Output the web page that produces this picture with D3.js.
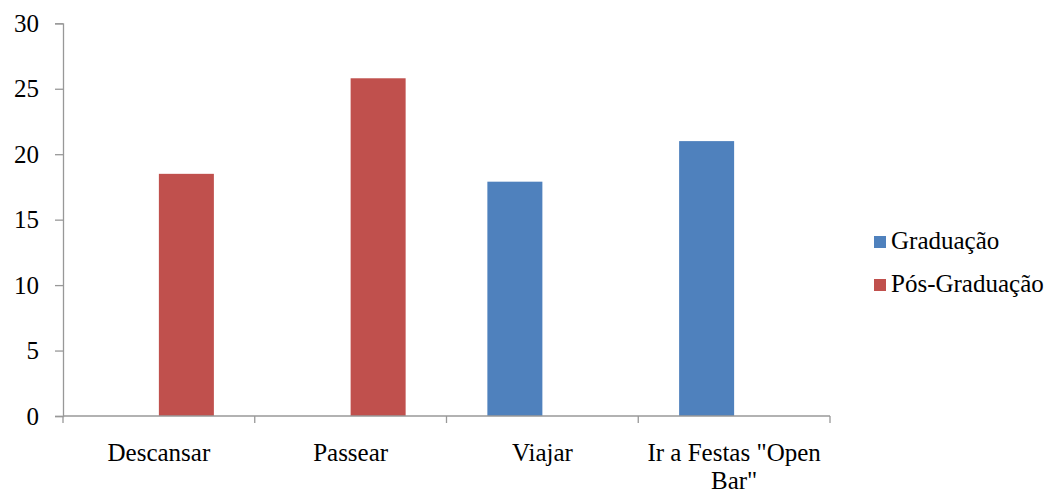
<!DOCTYPE html>
<html><head><meta charset="utf-8">
<script src="https://cdn.jsdelivr.net/npm/d3@7"></script>
<style>body{margin:0;background:#fff}svg{display:block}svg text{font-family:"Liberation Serif","Times New Roman",serif !important;fill:#000}</style>
</head><body>
<svg id="c" width="1059" height="495" font-family="Liberation Serif"></svg>
<script>
const categories = ["Descansar", "Passear", "Viajar", "Ir a Festas \"Open Bar\""];
const seriesNames = ["Graduação", "Pós-Graduação"];
const graduacao = [0, 0, 17.9, 21.0];
const posGraduacao = [18.5, 25.8, 0, 0];
const yTicks = [0, 5, 10, 15, 20, 25, 30];
const colors = ["#4F81BD", "#C0504D"];

(function () {
const svg = d3.select("#c");
const pLeft = 63, pRight = 830, pTop = 23.3, pBottom = 416;
const x = d3.scaleBand().domain(categories).range([pLeft, pRight]).paddingInner(0).paddingOuter(0);
const inner = d3.scaleBand().domain(seriesNames).range([0, x.bandwidth()]).paddingInner(0).paddingOuter(0.743);
const y = d3.scaleLinear().domain([0, 30]).range([pBottom, pTop]);
const axisColor = "#989898";
const font = "'Liberation Serif', 'Times New Roman', serif";

// y axis
const ya = svg.append("g").attr("transform", `translate(${pLeft},0)`)
  .call(d3.axisLeft(y).tickValues(yTicks).tickSize(8).tickPadding(16));
ya.attr("font-family", null);
ya.select(".domain").attr("stroke", axisColor).attr("stroke-width", 1.3);
ya.selectAll(".tick line").attr("stroke", axisColor).attr("stroke-width", 1.3);
ya.selectAll(".tick text").attr("font-size", 25).style("font-family", font).attr("fill", "#000");

// bars
const data = categories.map((c, i) => ({c, vals: [graduacao[i], posGraduacao[i]]}));
const g = svg.append("g");
data.forEach(d => {
  d.vals.forEach((v, j) => {
    if (v <= 0) return;
    g.append("rect")
      .attr("x", x(d.c) + inner(seriesNames[j]))
      .attr("y", y(v))
      .attr("width", inner.bandwidth())
      .attr("height", y(0) - y(v))
      .attr("fill", colors[j]);
  });
});

// x axis
const xa = svg.append("g").attr("transform", `translate(0,${pBottom})`);
xa.append("line").attr("x1", pLeft).attr("x2", pRight).attr("y1", 0).attr("y2", 0).attr("stroke", axisColor).attr("stroke-width", 1.3);
const bounds = categories.map(c => x(c)).concat([pRight]);
xa.selectAll("line.tk").data(bounds).enter().append("line").attr("class", "tk")
  .attr("x1", d => d).attr("x2", d => d).attr("y1", 0).attr("y2", 7).attr("stroke", axisColor).attr("stroke-width", 1.3);
const labelLines = [["Descansar"], ["Passear"], ["Viajar"], ["Ir a Festas \"Open", "Bar\""]];
categories.forEach((c, i) => {
  const t = xa.append("text").attr("text-anchor", "middle").attr("font-size", 25).style("font-family", font)
    .attr("x", x(c) + x.bandwidth() / 2).attr("y", 45);
  labelLines[i].forEach((ln, k) => {
    t.append("tspan").attr("x", x(c) + x.bandwidth() / 2).attr("dy", k === 0 ? 0 : 28).text(ln);
  });
});

// legend
const lg = svg.append("g").attr("transform", "translate(874,236)");
seriesNames.forEach((s, i) => {
  lg.append("rect").attr("x", 0).attr("y", i * 43).attr("width", 12).attr("height", 12).attr("fill", colors[i]);
  lg.append("text").attr("x", 17).attr("y", i * 43 + 12.5).attr("font-size", 25).style("font-family", font).text(s);
});
})();
</script>
</body></html>
